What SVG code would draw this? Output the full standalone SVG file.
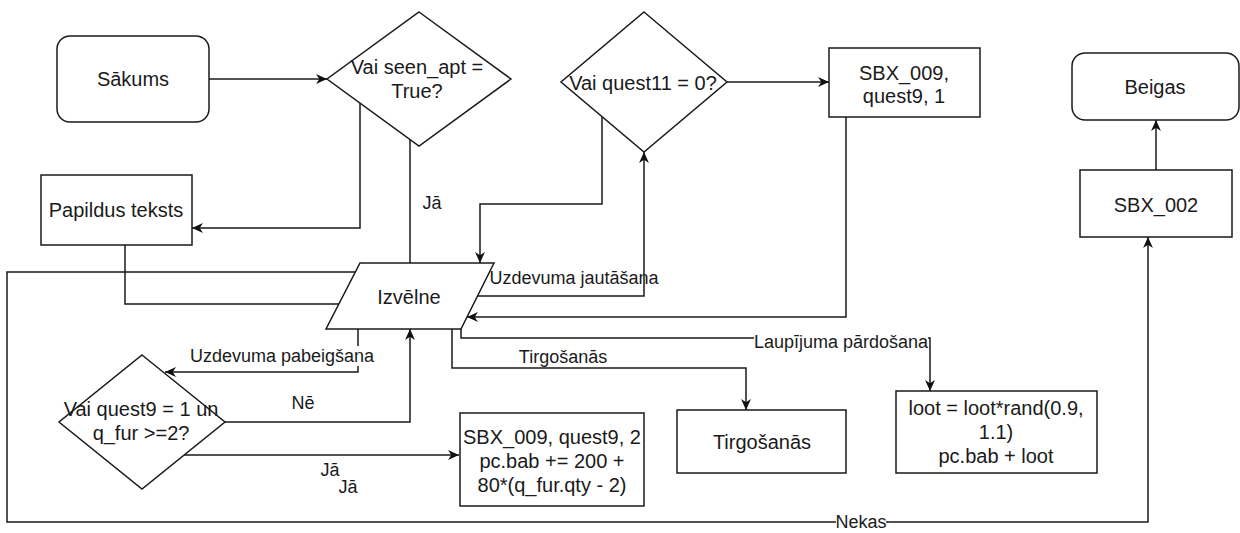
<svg xmlns="http://www.w3.org/2000/svg" width="1240" height="533" viewBox="0 0 1240 533">
  <defs>
    <marker id="arr" viewBox="0 0 10 10" refX="10" refY="5" markerWidth="11" markerHeight="11" markerUnits="userSpaceOnUse" orient="auto">
      <path d="M0,0.5 L10,5 L0,9.5 L3,5 Z" fill="#111"/>
    </marker>
    <style>
      .shape { fill: #fff; stroke: #1a1a1a; stroke-width: 1.5; }
      .edge { fill: none; stroke: #1a1a1a; stroke-width: 1.5; }
      .txt { font-family: "Liberation Sans", Arial, sans-serif; font-size: 20px; fill: #1a1a1a; text-anchor: middle; dominant-baseline: central; }
      .lbl { font-family: "Liberation Sans", Arial, sans-serif; font-size: 18px; fill: #1a1a1a; text-anchor: middle; dominant-baseline: central; }
      .bg { fill: #fff; }
    </style>
  </defs>
  <rect width="1240" height="533" fill="#fff"/>

  <!-- connectors -->
  <g id="connectors">
    <path class="edge" d="M209,79 L327,79" marker-end="url(#arr)"/>
    <path class="edge" d="M360,103 L360,228 L192,228" marker-end="url(#arr)"/>
    <path class="edge" d="M410,140 L410,263"/>
    <path class="edge" d="M125,245 L125,304 L339,304"/>
    <path class="edge" d="M355,272 L7,272 L7,522 L1148,522 L1148,237" marker-end="url(#arr)"/>
    <path class="edge" d="M602,117 L602,204 L480,204 L480,263" marker-end="url(#arr)"/>
    <path class="edge" d="M477,296 L644,296 L644,152" marker-end="url(#arr)"/>
    <path class="edge" d="M727,82 L829,82" marker-end="url(#arr)"/>
    <path class="edge" d="M846,117 L846,317 L467,317" marker-end="url(#arr)"/>
    <path class="edge" d="M461,329 L461,338 L930,338 L930,391" marker-end="url(#arr)"/>
    <path class="edge" d="M452,329 L452,368 L746,368 L746,410" marker-end="url(#arr)"/>
    <path class="edge" d="M358,329 L358,372 L165,372" marker-end="url(#arr)"/>
    <path class="edge" d="M225,422 L410,422 L410,329" marker-end="url(#arr)"/>
    <path class="edge" d="M183,455 L459,455" marker-end="url(#arr)"/>
    <path class="edge" d="M1156,170 L1156,120" marker-end="url(#arr)"/>

    <!-- edge labels -->
    <text class="lbl" x="432" y="203">Jā</text>
    <text class="lbl" x="574" y="278">Uzdevuma jautāšana</text>
    <rect class="bg" x="754" y="332" width="174" height="20"/>
    <text class="lbl" x="841" y="342">Laupījuma pārdošana</text>
    <text class="lbl" x="563" y="357">Tirgošanās</text>
    <rect class="bg" x="187" y="346" width="188" height="20"/>
    <text class="lbl" x="282" y="356">Uzdevuma pabeigšana</text>
    <text class="lbl" x="303" y="403">Nē</text>
    <text class="lbl" x="330" y="470">Jā</text>
    <text class="lbl" x="348" y="487">Jā</text>
    <rect class="bg" x="836" y="513" width="50" height="18"/>
    <text class="lbl" x="861" y="522">Nekas</text>
  </g>

  <g id="sakums">
    <rect class="shape" x="57" y="36" width="152" height="86" rx="13"/>
    <text class="txt" x="133" y="79">Sākums</text>
  </g>

  <g id="seen-apt">
    <polygon class="shape" points="419,12 511,79 419,146 327,79"/>
    <text class="txt" x="417" y="67">Vai seen_apt =</text>
    <text class="txt" x="417" y="91">True?</text>
  </g>

  <g id="papildus">
    <rect class="shape" x="41" y="175" width="151" height="70"/>
    <text class="txt" x="116" y="210">Papildus teksts</text>
  </g>

  <g id="izvelne">
    <polygon class="shape" points="360,263 494,263 461,329 326,329"/>
    <text class="txt" x="409" y="297">Izvēlne</text>
  </g>

  <g id="quest11">
    <polygon class="shape" points="644,12 727,82 644,152 561,82"/>
    <text class="txt" x="643" y="83">Vai quest11 = 0?</text>
  </g>

  <g id="sbx009-1">
    <rect class="shape" x="829" y="48" width="151" height="69"/>
    <text class="txt" x="904" y="73">SBX_009,</text>
    <text class="txt" x="904" y="96">quest9, 1</text>
  </g>

  <g id="beigas">
    <rect class="shape" x="1072" y="53" width="167" height="67" rx="13"/>
    <text class="txt" x="1155" y="87">Beigas</text>
  </g>

  <g id="sbx002">
    <rect class="shape" x="1080" y="170" width="152" height="67"/>
    <text class="txt" x="1156" y="205">SBX_002</text>
  </g>

  <g id="quest9">
    <polygon class="shape" points="142,355 225,422 142,489 59,422"/>
    <text class="txt" x="141" y="409">Vai quest9 = 1 un</text>
    <text class="txt" x="141" y="433">q_fur &gt;=2?</text>
  </g>

  <g id="sbx009-2">
    <rect class="shape" x="460" y="413" width="184" height="93"/>
    <text class="txt" x="552" y="437">SBX_009, quest9, 2</text>
    <text class="txt" x="552" y="461">pc.bab += 200 +</text>
    <text class="txt" x="552" y="485">80*(q_fur.qty - 2)</text>
  </g>

  <g id="tirgosanas">
    <rect class="shape" x="677" y="410" width="169" height="63"/>
    <text class="txt" x="762" y="442">Tirgošanās</text>
  </g>

  <g id="loot">
    <rect class="shape" x="896" y="391" width="201" height="82"/>
    <text class="txt" x="996" y="408">loot = loot*rand(0.9,</text>
    <text class="txt" x="996" y="432">1.1)</text>
    <text class="txt" x="996" y="456">pc.bab + loot</text>
  </g>
</svg>
